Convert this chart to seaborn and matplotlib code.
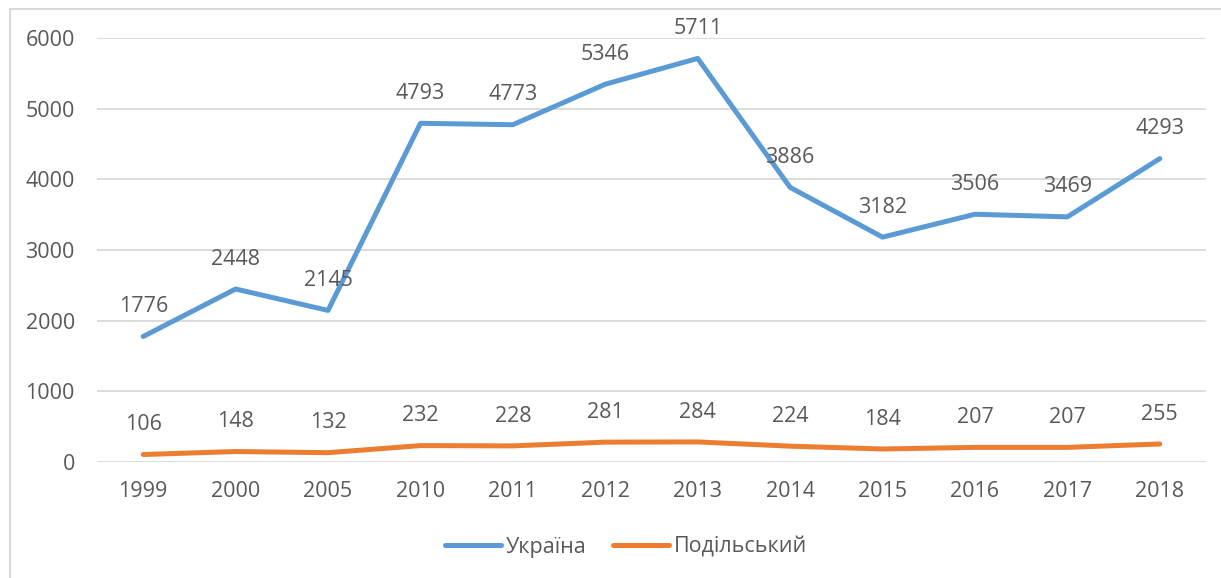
import matplotlib
matplotlib.use("Agg")
import matplotlib.pyplot as plt
from matplotlib.lines import Line2D
import seaborn as sns
import pandas as pd

years = ["1999", "2000", "2005", "2010", "2011", "2012", "2013", "2014", "2015", "2016", "2017", "2018"]
ukraine = [1776, 2448, 2145, 4793, 4773, 5346, 5711, 3886, 3182, 3506, 3469, 4293]
podilskyi = [106, 148, 132, 232, 228, 281, 284, 224, 184, 207, 207, 255]
series_names = ["Україна", "Подільський"]
y_ticks = [0, 1000, 2000, 3000, 4000, 5000, 6000]

sns.set_theme(style="white")
plt.rcParams['font.family'] = ['Open Sans', 'DejaVu Sans']

W, H = 1221, 578
fig = plt.figure(figsize=(W / 100, H / 100), dpi=100)
ax = fig.add_axes([97 / W, 1 - 462 / H, (1206 - 97) / W, (462 - 38) / H])

pos = list(range(len(years)))
df = pd.DataFrame({
    "pos": pos * 2,
    "value": ukraine + podilskyi,
    "series": [series_names[0]] * len(years) + [series_names[1]] * len(years),
})
palette = {series_names[0]: "#5B9BD5", series_names[1]: "#ED7D31"}
sns.lineplot(data=df, x="pos", y="value", hue="series", palette=palette,
             linewidth=3.6, ax=ax, legend=False, solid_capstyle="round",
             solid_joinstyle="round", zorder=3)

text_color = "#595959"
FS = 15.5
for vals in (ukraine, podilskyi):
    for x, v in zip(pos, vals):
        ax.annotate(str(v), (x, v), xytext=(0, 21.5), textcoords="offset points",
                    ha="center", va="center", fontsize=FS, color=text_color)

ax.set_xlim(-0.5, len(years) - 0.5)
ax.set_ylim(0, 6000)
ax.set_yticks(y_ticks)
ax.set_xticks(pos)
ax.set_xticklabels(years)
ax.tick_params(axis="both", length=0, labelsize=FS, labelcolor=text_color)
ax.tick_params(axis="y", pad=16)
ax.tick_params(axis="x", pad=14)
ax.set_xlabel("")
ax.set_ylabel("")
ax.grid(axis="y", color="#D9D9D9", linewidth=1.3)
ax.set_axisbelow(True)
for s in ax.spines.values():
    s.set_visible(False)

handles = [Line2D([0], [0], color=palette[n], lw=3.6, solid_capstyle="round") for n in series_names]
fig.legend(handles, series_names, loc="center", bbox_to_anchor=(626 / W, 1 - 547 / H),
           ncol=2, frameon=False, fontsize=FS, labelcolor=text_color,
           handlelength=2.6, handletextpad=0.25, columnspacing=1.2)

# chart border (top and left visible)
fig.add_artist(Line2D([9.5 / W, 9.5 / W], [0, 1 - 8.5 / H], transform=fig.transFigure,
                      color="#D9D9D9", lw=1.5))
fig.add_artist(Line2D([9.5 / W, 1], [1 - 8.5 / H, 1 - 8.5 / H], transform=fig.transFigure,
                      color="#D9D9D9", lw=1.5))

fig.savefig("out.png", dpi=100, facecolor="white")
